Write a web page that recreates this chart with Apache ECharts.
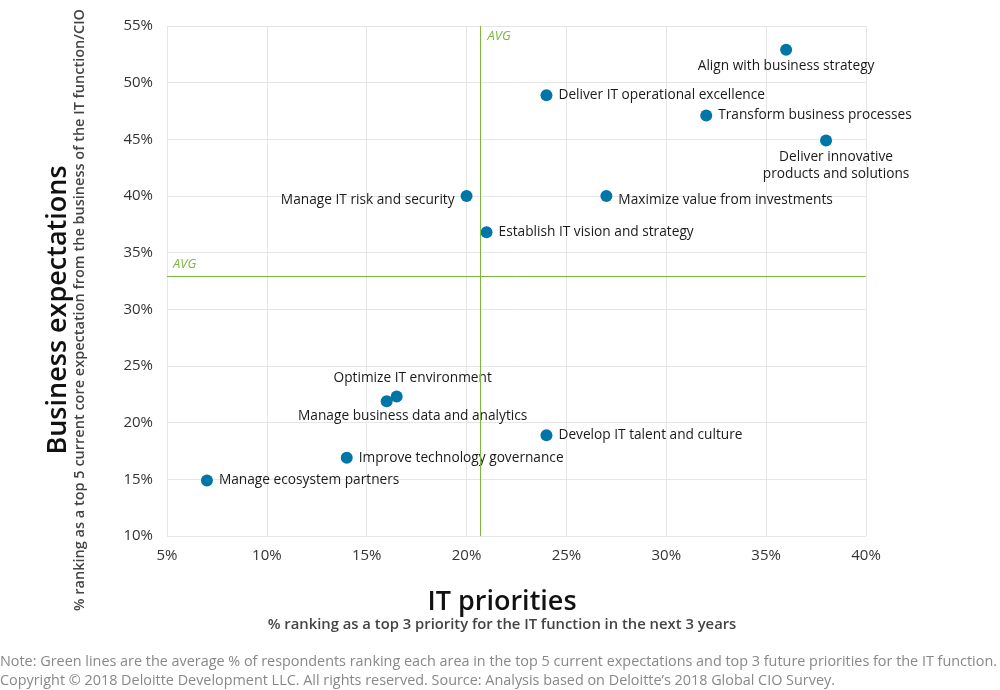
<!DOCTYPE html>
<html><head><meta charset="utf-8">
<script src="https://cdn.jsdelivr.net/npm/echarts@6/dist/echarts.min.js"></script>
<style>html,body{margin:0;padding:0;background:#fff}#c{width:1000px;height:690px}</style>
</head><body><div id="c"></div>
<script>
const names = ["Align with business strategy","Deliver IT operational excellence","Transform business processes","Deliver innovative\nproducts and solutions","Manage IT risk and security","Maximize value from investments","Establish IT vision and strategy","Optimize IT environment","Manage business data and analytics","Develop IT talent and culture","Improve technology governance","Manage ecosystem partners"];
const itPriority = [36,24,32,38,20,27,21,16.5,16,24,14,7];
const bizExpect = [52.9,48.9,47.1,44.9,40,40,36.8,22.3,21.9,18.9,16.9,14.9];
const avgX = 20.7, avgY = 32.9;
const xTicks = [5,10,15,20,25,30,35,40];
const yTicks = [10,15,20,25,30,35,40,45,50,55];

const labelStyle = {
  "Align with business strategy": {position:'bottom', distance:2},
  "Deliver innovative\nproducts and solutions": {position:'bottom', distance:2, align:'center', offset:[10,0]},
  "Manage IT risk and security": {position:'left', offset:[0,4]},
  "Optimize IT environment": {position:'top', offset:[16,2]},
  "Manage business data and analytics": {position:'bottom', offset:[26,-2], distance:2},
  "Maximize value from investments": {position:'right', offset:[0,4]}
};
const data = names.map((n,i)=>{
  const d = {name:n, value:[itPriority[i], bizExpect[i]]};
  if (labelStyle[n]) d.label = labelStyle[n];
  return d;
});
const chart = echarts.init(document.getElementById('c'));
const green = '#7cb83f';
const ff = '"Open Sans", sans-serif';
chart.setOption({
  animation:false,
  textStyle:{fontFamily:ff},
  grid:{left:167,right:134,top:26,bottom:154},
  xAxis:{type:'value',min:5,max:40,interval:5,
    axisLabel:{formatter:v=>v+'%',color:'#333',fontSize:15,margin:12},
    axisLine:{show:false},axisTick:{show:false},
    splitLine:{lineStyle:{color:'#e6e6e6'}}},
  yAxis:{type:'value',min:10,max:55,interval:5,
    axisLabel:{formatter:v=>v+'%',color:'#333',fontSize:15,margin:14},
    axisLine:{show:false},axisTick:{show:false},
    splitLine:{lineStyle:{color:'#e6e6e6'}}},
  series:[{
    type:'scatter',symbolSize:12,itemStyle:{color:'#0076a8',opacity:1},
    data:data,
    label:{show:true,position:'right',distance:6,formatter:p=>p.name,color:'#1a1a1a',fontSize:13.7,fontFamily:ff,lineHeight:17},
    markLine:{silent:true,symbol:'none',label:{show:false},
      lineStyle:{color:green,type:'solid',width:1},
      data:[{xAxis:avgX},{yAxis:avgY}]}
  }]
});
const px = chart.convertToPixel({gridIndex:0},[avgX,avgY]);
chart.setOption({graphic:[
  {type:'text',left:px[0]+7,top:30,style:{text:'AVG',fill:green,font:'italic 13px '+ff}},
  {type:'text',left:173,top:px[1]-19,style:{text:'AVG',fill:green,font:'italic 13px '+ff}},
  {type:'text',x:58,y:310,rotation:Math.PI/2,style:{text:'Business expectations',fill:'#111',font:'600 27px '+ff,align:'center',verticalAlign:'middle'}},
  {type:'text',x:80,y:310,rotation:Math.PI/2,style:{text:'% ranking as a top 5 current core expectation from the business of the IT function/CIO',fill:'#444',font:'600 14.5px '+ff,align:'center',verticalAlign:'middle'}},
  {type:'text',x:502,y:602,style:{text:'IT priorities',fill:'#111',font:'600 27px '+ff,align:'center',verticalAlign:'middle'}},
  {type:'text',x:502,y:625,style:{text:'% ranking as a top 3 priority for the IT function in the next 3 years',fill:'#444',font:'600 14.8px '+ff,align:'center',verticalAlign:'middle'}},
  {type:'text',x:0,y:662,style:{text:'Note: Green lines are the average % of respondents ranking each area in the top 5 current expectations and top 3 future priorities for the IT function.',fill:'#888',font:'14.4px '+ff,verticalAlign:'middle'}},
  {type:'text',x:0,y:681,style:{text:'Copyright © 2018 Deloitte Development LLC. All rights reserved. Source: Analysis based on Deloitte’s 2018 Global CIO Survey.',fill:'#888',font:'14.4px '+ff,verticalAlign:'middle'}}
]});
</script></body></html>
